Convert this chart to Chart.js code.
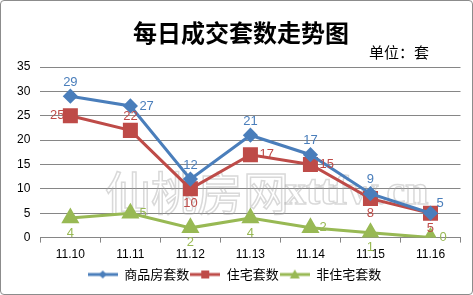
<!DOCTYPE html>
<html>
<head>
<meta charset="utf-8">
<script src="https://cdn.jsdelivr.net/npm/chart.js@4/dist/chart.umd.min.js"></script>
<style>
  html, body { margin: 0; padding: 0; background: #fff; }
  #box { width: 471px; height: 293px; border: 1px solid #8c8c8c; border-radius: 4px; position: relative; }
  canvas { display: block; }
</style>
</head>
<body>
<div id="box"><canvas id="chart" width="471" height="293"></canvas></div>
<script>
const titleText = '每日成交套数走势图';
const unitText = '单位：套';
const dates = ['11.10', '11.11', '11.12', '11.13', '11.14', '11.15', '11.16'];
const yTicks = [0, 5, 10, 15, 20, 25, 30, 35];

const totalUnits = [29, 27, 12, 21, 17, 9, 5];
const homeUnits = [25, 22, 10, 17, 15, 8, 5];
const otherUnits = [4, 5, 2, 4, 2, 1, 0];

// where each value label sits relative to its point
const totalLabelPos = ['top', 'right', 'top', 'top', 'top', 'top', 'topright'];
const homeLabelPos = ['left', 'top', 'bottom', 'right', 'right', 'bottom', 'bottom'];
const otherLabelPos = ['bottom', 'right', 'bottom', 'bottom', 'right', 'bottom', 'right'];

const BLUE = '#4a7ebb';
const RED = '#be4b48';
const GREEN = '#98b954';

function legendIcon(color, style) {
  const c = document.createElement('canvas');
  c.width = 30; c.height = 12;
  const g = c.getContext('2d');
  g.strokeStyle = color; g.fillStyle = color; g.lineWidth = 3;
  g.beginPath(); g.moveTo(0, 6); g.lineTo(30, 6); g.stroke();
  g.beginPath();
  if (style === 'diamond') {
    g.moveTo(15, 2); g.lineTo(19, 6); g.lineTo(15, 10); g.lineTo(11, 6);
  } else if (style === 'square') {
    g.rect(11, 2, 8, 8);
  } else {
    g.moveTo(15, 1); g.lineTo(20, 10); g.lineTo(10, 10);
  }
  g.closePath(); g.fill();
  return c;
}

const extras = {
  id: 'extras',
  beforeDatasetsDraw(chart) {
    const ctx = chart.ctx;
    ctx.save();
    ctx.strokeStyle = 'rgba(160,160,160,0.4)';
    ctx.lineWidth = 1.5;
    ctx.textBaseline = 'middle';
    ctx.textAlign = 'left';
    ctx.font = '46px "Noto Sans CJK SC"';
    ctx.strokeText('仙桃房网', 104, 192);
    ctx.font = 'bold 42px "Liberation Serif", serif';
    ctx.strokeText('xttfw.cn', 284, 192);
    ctx.restore();
  },
  afterDatasetsDraw(chart) {
    const ctx = chart.ctx;
    ctx.save();
    ctx.font = 'bold 24px "Noto Sans CJK SC"';
    ctx.fillStyle = '#000';
    ctx.textAlign = 'center';
    ctx.textBaseline = 'middle';
    ctx.fillText(titleText, 240, 32);
    ctx.font = '15px "Noto Sans CJK SC"';
    ctx.textAlign = 'right';
    ctx.fillText(unitText, 428, 51);

    ctx.font = '13px "Liberation Sans", sans-serif';
    const posLists = [totalLabelPos, homeLabelPos, otherLabelPos];
    chart.data.datasets.forEach((ds, i) => {
      const meta = chart.getDatasetMeta(i);
      ctx.fillStyle = ds.borderColor;
      meta.data.forEach((pt, j) => {
        const pos = posLists[i][j];
        let x = pt.x, y = pt.y;
        if (pos === 'top') { ctx.textAlign = 'center'; y -= 14; }
        else if (pos === 'bottom') { ctx.textAlign = 'center'; y += 15; }
        else if (pos === 'left') { ctx.textAlign = 'right'; x -= 6; }
        else if (pos === 'topright') { ctx.textAlign = 'left'; x += 6; y -= 10; }
        else { ctx.textAlign = 'left'; x += 9; }
        ctx.fillText(String(ds.data[j]), x, y);
      });
    });
    ctx.restore();
  }
};

new Chart(document.getElementById('chart'), {
  type: 'line',
  data: {
    labels: dates,
    datasets: [
      { label: '商品房套数', data: totalUnits, borderColor: BLUE, backgroundColor: BLUE,
        pointStyle: 'rectRot', pointRadius: 5.5, borderWidth: 3, legendIcon: legendIcon(BLUE, 'diamond') },
      { label: '住宅套数', data: homeUnits, borderColor: RED, backgroundColor: RED,
        pointStyle: 'rect', pointRadius: 8.5, borderWidth: 3, legendIcon: legendIcon(RED, 'square') },
      { label: '非住宅套数', data: otherUnits, borderColor: GREEN, backgroundColor: GREEN,
        pointStyle: 'triangle', pointRadius: 7.5, borderWidth: 3, legendIcon: legendIcon(GREEN, 'triangle') }
    ]
  },
  options: {
    responsive: false,
    animation: false,
    layout: { padding: { top: 66, left: 6, right: 10, bottom: 3 } },
    elements: { line: { tension: 0 }, point: { borderWidth: 0 } },
    scales: {
      x: {
        offset: true,
        grid: { offset: true, drawOnChartArea: false, drawTicks: true, tickLength: 5, color: '#868686' },
        border: { color: '#868686' },
        ticks: { color: '#000', font: { size: 12, family: '"Liberation Sans", sans-serif' }, padding: 5 }
      },
      y: {
        min: 0,
        max: 35,
        afterBuildTicks(axis) { axis.ticks = yTicks.map(v => ({ value: v })); },
        grid: { color: '#868686', drawTicks: false },
        border: { display: false },
        ticks: { color: '#000', font: { size: 12, family: '"Liberation Sans", sans-serif' }, padding: 10 }
      }
    },
    plugins: {
      title: { display: false },
      tooltip: { enabled: false },
      legend: {
        position: 'bottom',
        labels: {
          usePointStyle: true,
          pointStyleWidth: 30,
          boxHeight: 12,
          padding: 1,
          color: '#000',
          font: { size: 13, family: '"Noto Sans CJK SC"' },
          generateLabels(chart) {
            return chart.data.datasets.map((ds, i) => ({
              text: ds.label,
              pointStyle: ds.legendIcon,
              fillStyle: ds.borderColor,
              strokeStyle: ds.borderColor,
              lineWidth: 0,
              datasetIndex: i
            }));
          }
        }
      }
    }
  },
  plugins: [extras]
});
</script>
</body>
</html>
